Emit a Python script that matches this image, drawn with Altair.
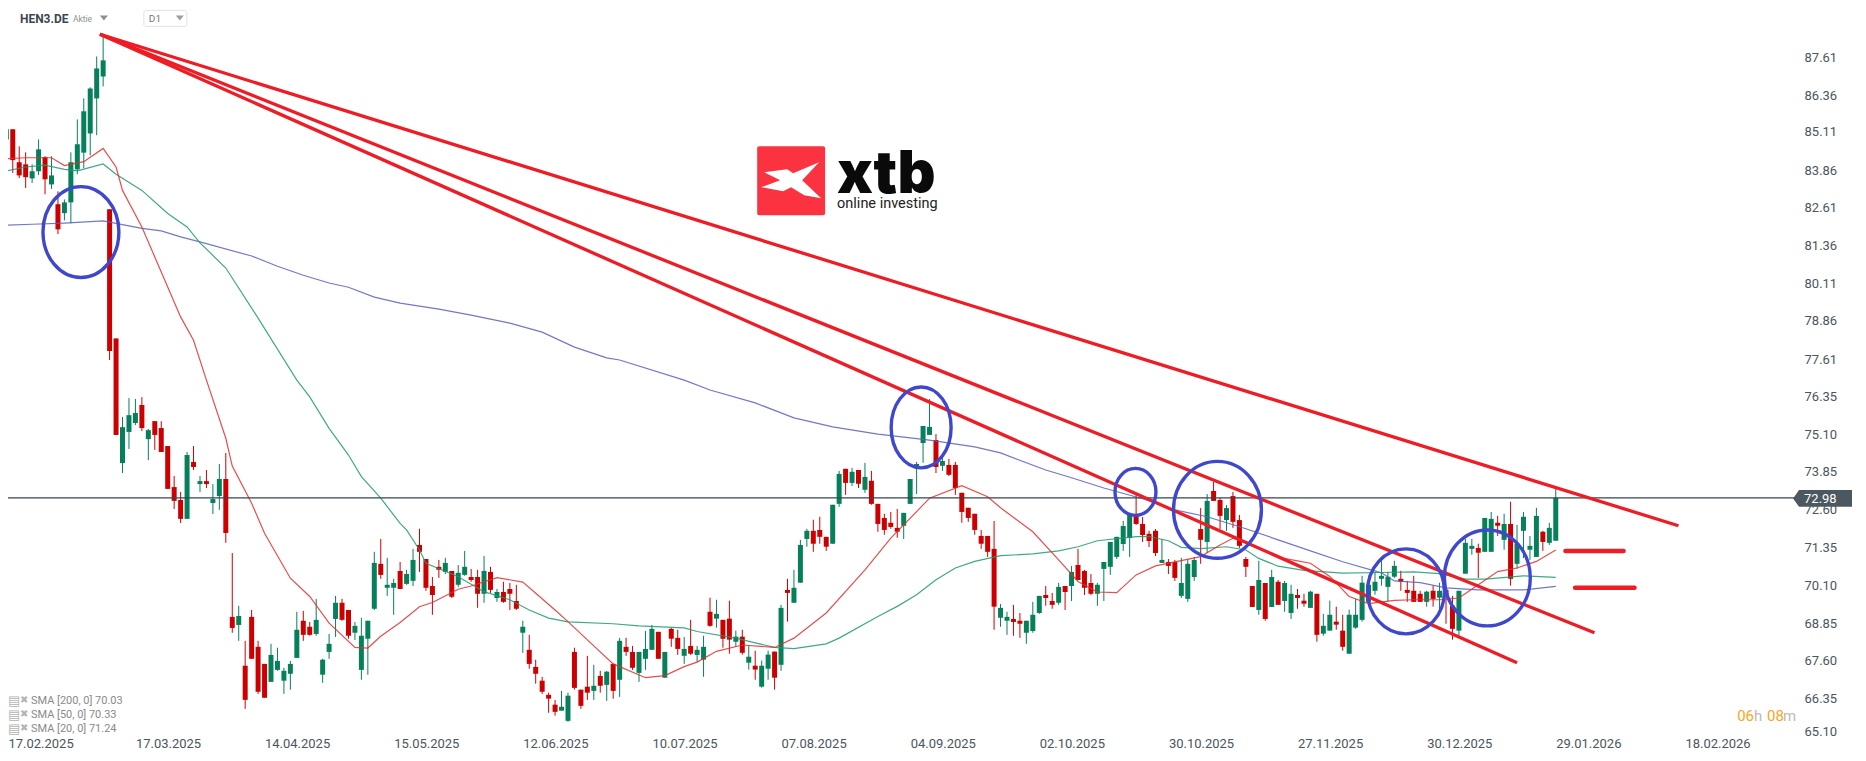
import altair as alt
import pandas as pd

opens = [
    84.94, 85.28, 84.18, 84.11, 83.64, 83.88, 84.35, 83.44, 82.78, 82.48,
    82.84, 83.94, 84.50, 85.14, 86.31, 87.04, 82.61, 78.30, 74.14, 75.18,
    75.48, 76.08, 74.94, 75.54, 75.31, 74.71, 73.34, 72.91, 72.28, 74.18,
    73.44, 73.54, 72.81, 73.04, 73.61, 69.01, 68.74, 67.38, 69.01, 68.01,
    67.44, 66.84, 67.24, 66.88, 67.11, 67.64, 68.88, 68.68, 68.44, 67.08,
    67.84, 68.94, 69.48, 69.24, 68.48, 67.24, 68.28, 69.28, 70.78, 69.98,
    69.98, 70.54, 70.11, 70.21, 71.41, 70.94, 70.04, 70.68, 70.51, 70.54,
    70.08, 70.41, 70.34, 70.34, 69.78, 70.51, 69.64, 69.84, 69.94, 69.54,
    68.48, 67.91, 67.34, 66.88, 66.41, 66.08, 65.88, 65.54, 67.84, 66.58,
    66.68, 66.54, 67.04, 66.74, 67.44, 66.91, 68.01, 67.84, 67.14, 67.61,
    67.91, 68.51, 66.98, 68.61, 68.31, 67.71, 68.04, 67.74, 67.58, 69.18,
    68.95, 68.91, 68.95, 68.18, 68.35, 67.48, 67.38, 66.68, 67.28, 67.85,
    67.41, 69.91, 69.48, 70.15, 71.61, 71.88, 71.91, 71.68, 71.45, 72.78,
    73.95, 73.48, 73.91, 73.25, 73.55, 72.78, 72.31, 72.15, 71.98, 72.05,
    72.78, 73.98, 74.81, 75.08, 74.91, 74.05, 74.08, 74.08, 73.15, 72.65,
    72.45, 71.71, 71.71, 71.28, 68.98, 68.88, 68.94, 68.88, 68.48, 68.54,
    69.14, 69.74, 69.54, 69.48, 70.04, 70.04, 70.74, 70.54, 70.14, 69.78,
    70.61, 70.68, 71.01, 71.44, 71.64, 72.41, 72.11, 71.78, 71.88, 70.81,
    70.84, 70.84, 69.71, 69.61, 70.34, 71.94, 71.51, 73.21, 72.91, 72.24,
    73.04, 72.24, 70.94, 70.04, 69.24, 70.14, 69.34, 70.18, 69.54, 69.14,
    69.74, 69.55, 69.31, 69.78, 68.45, 68.55, 68.85, 68.55, 67.78, 68.65,
    68.91, 69.51, 69.88, 70.28, 70.01, 70.35, 70.28, 69.91, 69.88, 69.78,
    69.51, 69.88, 69.65, 69.91, 69.38, 68.55, 70.45, 71.28, 71.31, 71.18,
    71.18, 72.15, 71.58, 72.11, 70.78, 71.88, 71.25, 71.01, 71.85, 71.48,
    71.55,
]
closes = [
    85.28, 84.25, 83.74, 83.68, 83.88, 84.61, 83.61, 83.74, 81.94, 82.84,
    84.18, 84.78, 85.88, 86.64, 87.31, 87.58, 77.88, 75.08, 75.34, 75.74,
    75.81, 75.31, 75.24, 75.08, 74.51, 73.28, 72.88, 72.28, 74.41, 74.01,
    73.54, 73.44, 72.94, 73.61, 71.81, 68.64, 69.04, 66.24, 67.61, 66.51,
    66.31, 67.74, 67.54, 67.21, 67.44, 68.58, 68.41, 68.41, 68.91, 67.58,
    68.11, 69.48, 68.91, 68.38, 68.71, 68.38, 68.88, 70.81, 70.41, 70.08,
    70.14, 69.94, 70.44, 70.91, 71.18, 69.98, 69.74, 70.58, 70.81, 69.68,
    70.48, 70.68, 70.24, 69.78, 70.54, 69.91, 69.84, 69.51, 69.78, 69.28,
    68.68, 67.44, 67.11, 66.51, 66.28, 65.84, 66.01, 66.38, 66.64, 66.04,
    66.48, 66.71, 66.71, 67.18, 66.54, 68.21, 67.84, 67.31, 67.84, 67.94,
    68.61, 67.61, 67.84, 68.28, 67.94, 67.94, 67.78, 67.91, 68.01, 68.71,
    69.11, 68.28, 68.25, 68.35, 67.81, 67.68, 67.25, 67.38, 67.75, 66.98,
    69.31, 69.81, 69.98, 71.41, 71.88, 71.45, 71.68, 71.35, 72.75, 73.78,
    73.48, 73.85, 73.45, 73.68, 72.78, 72.11, 71.91, 72.01, 71.85, 72.48,
    73.61, 74.11, 75.38, 75.35, 74.01, 74.21, 73.75, 73.31, 72.51, 72.31,
    71.91, 71.45, 71.18, 69.35, 69.31, 69.01, 68.84, 68.78, 68.88, 69.08,
    69.71, 69.64, 69.41, 70.01, 69.84, 70.51, 70.24, 69.98, 69.78, 70.08,
    70.84, 71.51, 71.68, 72.04, 72.41, 72.11, 71.74, 71.54, 71.14, 70.91,
    70.71, 70.31, 70.14, 70.78, 70.91, 71.58, 72.88, 72.88, 72.38, 72.64,
    72.18, 71.38, 70.68, 69.34, 70.24, 68.94, 70.34, 69.41, 70.14, 69.78,
    69.64, 69.45, 69.85, 68.41, 68.71, 69.08, 68.75, 68.01, 69.08, 69.08,
    70.15, 70.08, 70.18, 70.38, 70.35, 70.71, 70.18, 69.81, 69.51, 69.51,
    69.85, 69.61, 69.88, 69.71, 68.61, 69.88, 71.48, 71.38, 71.15, 72.31,
    72.28, 72.05, 72.11, 70.28, 71.45, 72.35, 71.38, 72.38, 71.51, 71.98,
    72.98,
]
highs = [
    85.71, 85.28, 84.71, 84.51, 84.11, 84.94, 84.38, 84.38, 83.21, 82.94,
    84.51, 85.61, 86.31, 86.68, 87.71, 88.47, 82.61, 78.30, 75.68, 76.31,
    76.28, 76.34, 75.28, 75.54, 75.54, 74.71, 73.71, 73.18, 74.51, 74.71,
    73.71, 73.91, 73.44, 74.11, 74.48, 71.14, 69.38, 68.21, 69.24, 68.21,
    67.44, 68.11, 67.98, 67.31, 67.54, 69.18, 69.21, 68.84, 69.61, 67.61,
    68.44, 69.71, 69.61, 69.24, 68.84, 68.98, 68.88, 71.18, 71.61, 70.98,
    70.28, 70.84, 70.58, 71.28, 71.95, 70.94, 70.34, 70.91, 70.98, 70.54,
    70.74, 71.21, 70.61, 70.58, 71.04, 70.68, 69.94, 70.18, 70.14, 70.08,
    68.88, 68.41, 67.58, 67.01, 66.48, 66.24, 66.54, 66.48, 67.98, 66.58,
    67.71, 67.41, 67.21, 67.21, 67.44, 68.31, 68.31, 68.04, 67.84, 68.54,
    68.74, 68.51, 67.84, 68.64, 68.58, 68.34, 68.91, 68.04, 68.38, 69.65,
    69.58, 68.91, 69.55, 68.55, 68.58, 68.05, 67.88, 67.55, 67.88, 67.85,
    69.41, 70.28, 70.58, 71.58, 71.95, 72.25, 72.35, 71.68, 72.75, 73.88,
    73.95, 73.98, 73.91, 74.15, 73.88, 72.78, 72.45, 72.51, 72.61, 72.48,
    73.61, 74.18, 75.38, 76.28, 75.11, 74.38, 74.28, 74.18, 73.15, 72.65,
    72.45, 71.91, 71.71, 72.21, 69.44, 69.18, 69.41, 69.14, 68.88, 69.51,
    69.71, 70.04, 69.81, 70.14, 70.04, 70.71, 71.28, 70.58, 70.44, 70.14,
    70.84, 71.51, 71.68, 72.21, 72.48, 73.08, 72.34, 71.88, 71.94, 71.61,
    70.94, 70.91, 70.98, 70.94, 71.01, 72.64, 73.11, 73.51, 72.98, 72.74,
    73.18, 72.41, 71.01, 70.04, 70.88, 70.14, 70.58, 70.24, 70.21, 70.08,
    69.94, 69.78, 69.88, 69.78, 69.11, 69.55, 69.35, 69.08, 69.25, 69.61,
    70.38, 70.38, 70.51, 71.01, 70.51, 70.88, 70.55, 70.21, 70.38, 69.88,
    69.88, 70.05, 70.15, 70.05, 69.71, 69.88, 71.61, 71.61, 71.45, 72.31,
    72.51, 72.38, 72.45, 72.85, 72.08, 72.51, 71.71, 72.65, 71.88, 72.15,
    73.31,
]
lows = [
    84.85, 83.82, 83.65, 83.32, 83.49, 83.75, 83.11, 83.29, 81.78, 82.24,
    82.14, 83.78, 83.98, 84.41, 85.08, 86.71, 77.58, 75.08, 73.81, 74.61,
    75.41, 75.21, 74.24, 74.58, 74.51, 73.28, 72.61, 72.14, 72.28, 73.91,
    73.18, 73.31, 72.44, 72.58, 71.48, 68.48, 68.21, 65.94, 67.61, 66.44,
    66.31, 66.84, 67.21, 66.44, 66.58, 67.64, 68.21, 68.38, 68.38, 66.81,
    67.61, 68.34, 68.88, 68.28, 68.24, 66.91, 67.08, 69.24, 70.28, 69.71,
    69.08, 69.94, 70.08, 70.04, 70.51, 69.88, 69.08, 70.31, 70.44, 69.64,
    70.01, 70.38, 70.18, 69.31, 69.48, 69.81, 69.51, 69.48, 69.24, 69.24,
    67.81, 67.28, 66.78, 66.44, 65.81, 65.71, 65.88, 65.51, 66.58, 65.94,
    66.24, 66.24, 66.48, 66.21, 66.28, 66.34, 67.71, 67.24, 66.84, 67.24,
    67.91, 67.61, 66.98, 68.01, 67.74, 67.44, 67.74, 67.51, 67.01, 68.68,
    68.65, 67.98, 67.78, 68.01, 67.75, 67.25, 66.91, 66.65, 66.91, 66.58,
    67.21, 68.85, 69.48, 70.15, 71.35, 71.18, 71.45, 71.21, 71.45, 72.68,
    73.08, 73.38, 73.31, 73.15, 72.75, 71.85, 71.75, 71.95, 71.65, 71.61,
    72.78, 73.11, 74.15, 75.08, 73.81, 73.88, 73.71, 73.08, 72.15, 72.18,
    71.75, 71.28, 71.01, 68.58, 68.68, 68.41, 68.38, 68.31, 68.11, 68.48,
    69.11, 69.38, 69.28, 69.41, 69.24, 69.54, 70.24, 69.74, 69.74, 69.38,
    69.54, 70.41, 70.94, 71.21, 71.01, 72.08, 71.51, 71.34, 71.04, 70.81,
    70.44, 70.21, 69.64, 69.51, 70.21, 70.78, 71.14, 72.88, 71.94, 71.88,
    71.98, 71.31, 70.34, 69.34, 69.08, 68.88, 69.34, 69.41, 69.18, 68.94,
    69.28, 69.35, 69.31, 68.18, 68.38, 68.55, 68.58, 67.88, 67.78, 68.61,
    68.85, 69.45, 69.75, 70.05, 69.51, 70.31, 69.88, 69.51, 69.51, 69.51,
    69.35, 69.35, 69.21, 68.78, 68.25, 68.38, 70.45, 71.08, 70.31, 71.18,
    71.18, 71.71, 71.25, 70.05, 70.61, 70.97, 70.91, 71.01, 71.21, 71.41,
    71.55,
]

sma200_bar = [0, 4, 9, 15, 21, 24, 27, 30, 38, 42, 46, 50, 53, 57, 61, 67, 72, 78, 83, 88, 93, 95, 105, 109,
              116, 122, 128, 135, 143, 150, 154, 161, 165, 170, 176, 181, 186, 192, 197, 202, 207, 213, 215,
              219, 223, 228, 235, 240]
sma200_val = [82.08, 82.11, 82.15, 82.22, 81.97, 81.89, 81.69, 81.52, 81.05, 80.71, 80.41, 80.15, 80.01, 79.68,
              79.48, 79.28, 79.08, 78.81, 78.51, 78.01, 77.65, 77.58, 76.91, 76.58, 76.15, 75.65, 75.35, 75.11,
              74.91, 74.68, 74.48, 73.91, 73.65, 73.31, 72.95, 72.58, 72.35, 71.95, 71.58, 71.21, 70.85, 70.48,
              70.21, 70.15, 69.98, 69.91, 69.91, 70.03]
sma50_bar = [0, 3, 6, 9, 11, 15, 17, 21, 25, 28, 30, 34, 39, 45, 47, 50, 53, 55, 58, 61, 62, 64, 65, 70, 74, 78,
             81, 84, 87, 94, 98, 105, 107, 113, 116, 119, 122, 127, 129, 135, 138, 141, 144, 147, 150, 154, 159,
             163, 166, 169, 175, 177, 180, 182, 185, 189, 192, 194, 197, 201, 207, 213, 218, 222, 226, 229, 235, 240]
sma50_val = [83.89, 84.02, 84.08, 83.94, 83.89, 84.12, 83.78, 83.24, 82.47, 82.02, 81.49, 80.65, 78.98, 76.91,
             76.35, 75.30, 74.41, 73.69, 72.97, 72.13, 71.91, 71.24, 70.80, 70.35, 69.85, 69.58, 69.24, 68.97,
             68.84, 68.78, 68.71, 68.64, 68.52, 68.30, 68.14, 67.99, 67.95, 68.11, 68.30, 69.02, 69.36, 69.75,
             70.25, 70.64, 70.86, 71.05, 71.11, 71.21, 71.35, 71.55, 71.69, 71.69, 71.55, 71.33, 71.29, 71.35,
             71.24, 70.96, 70.70, 70.56, 70.47, 70.49, 70.51, 70.45, 70.27, 70.27, 70.38, 70.33]
sma20_bar = [0, 3, 7, 9, 12, 15, 17, 18, 21, 23, 27, 29, 31, 34, 35, 38, 40, 44, 47, 50, 54, 56, 58, 61, 64, 66,
             70, 72, 76, 80, 82, 85, 87, 90, 94, 99, 102, 105, 107, 110, 114, 119, 122, 127, 133, 137, 141, 143,
             148, 152, 154, 159, 163, 166, 169, 172, 175, 178, 185, 188, 190, 192, 194, 197, 200, 202, 205, 208,
             211, 215, 218, 222, 225, 228, 231, 234, 237, 240]
sma20_val = [84.30, 84.33, 84.33, 84.07, 84.20, 84.64, 84.02, 83.24, 82.02, 81.02, 79.02, 78.24, 76.91, 74.97,
             74.04, 72.80, 71.80, 70.30, 69.69, 68.80, 67.99, 67.97, 68.36, 68.82, 69.35, 69.49, 69.93, 70.04,
             70.32, 70.17, 69.80, 69.24, 68.85, 68.24, 67.44, 66.98, 67.05, 67.35, 67.50, 67.86, 68.07, 67.99,
             68.30, 69.14, 70.58, 71.64, 72.52, 72.97, 73.39, 73.02, 72.65, 71.85, 70.91, 70.19, 69.84, 69.82,
             70.41, 70.71, 71.02, 71.41, 71.63, 71.52, 71.30, 71.00, 70.88, 70.80, 70.36, 69.69, 69.45, 69.56,
             69.58, 69.58, 69.64, 70.08, 70.52, 70.64, 70.86, 71.24]

# hand drawn trend lines and levels
trend_bar = [14.5, 14.5, 14.5]
trend_val = [88.45, 88.45, 88.45]
trend_bar2 = [259, 246, 234]
trend_val2 = [72.05, 68.48, 67.48]
level_bar = [241.5, 243]
level_bar2 = [250.5, 252.2]
level_val = [71.21, 69.98]

# hand drawn ellipses: centre and half axes
ring_bar = [11.56, 141.7, 174.9, 187.6, 216.8, 229.4]
ring_val = [81.85, 75.33, 73.18, 72.58, 69.86, 70.31]
ring_rx = [38, 30, 20.5, 44, 38.5, 43]
ring_ry = [45.5, 40.5, 23.5, 48.5, 42.5, 48]

last_price = 72.98
# first tick sits just inside the scale, an axis drops values outside its domain
tick_bars = [0.27, 20, 40, 60, 80, 100, 120, 140, 160, 180, 200, 220, 240, 260]
tick_dates = ['17.02.2025', '17.03.2025', '14.04.2025', '15.05.2025', '12.06.2025', '10.07.2025', '07.08.2025',
              '04.09.2025', '02.10.2025', '30.10.2025', '27.11.2025', '30.12.2025', '29.01.2026', '18.02.2026']
# printed price labels, and where each one sits on the candles' price scale
price_labels = ['87.61', '86.36', '85.11', '83.86', '82.61', '81.36', '80.11', '78.86', '77.61', '76.35', '75.10',
                '73.85', '72.60', '71.35', '70.10', '68.85', '67.60', '66.35', '65.10']
price_ticks = [87.68, 86.41, 85.19, 83.91, 82.66, 81.39, 80.12, 78.89, 77.61, 76.36, 75.11, 73.86, 72.60, 71.32,
               70.07, 68.79, 67.57, 66.30, 65.19]
sma_labels = ['SMA [200,  0] 70.03', 'SMA [50,  0] 70.33', 'SMA [20,  0] 71.24']

GREEN = '#06805a'
RED = '#cc0000'
FONT = 'Roboto'

# padding=0: bars would otherwise inset the x scale by their own width
x_scale = alt.Scale(domain=[0.263, 277.53], nice=False, zero=False, padding=0)
y_scale = alt.Scale(domain=[65.047, 89.313], nice=False, zero=False)

candles = pd.DataFrame({'bar': range(len(opens)), 'open': opens, 'high': highs, 'low': lows, 'close': closes})
candles['dir'] = ['up' if c >= o else 'down' for o, c in zip(opens, closes)]
candle_color = alt.Color('dir:N', scale=alt.Scale(domain=['up', 'down'], range=[GREEN, RED]), legend=None)

date_expr = "{" + ",".join(f"'{b}':'{d}'" for b, d in zip(tick_bars, tick_dates)) + "}[datum.value]"
price_expr = "{" + ",".join(f"'{t:.2f}':'{p}'" for t, p in zip(price_ticks, price_labels)) + "}[format(datum.value,'.2f')]"
x_axis = alt.Axis(values=tick_bars, labelExpr=date_expr, labelAlign='left', labelBaseline='middle', labelPadding=8,
                  labelFlush=False, labelOverlap=False, domain=False, ticks=False, grid=False,
                  title=None, labelFont=FONT, labelFontSize=13, labelColor='#4a5560')
y_axis = alt.Axis(orient='right', values=price_ticks, labelExpr=price_expr, labelPadding=6,
                  labelOverlap=False, labelFlush=False, domain=False, ticks=False, grid=False, title=None,
                  labelFont=FONT, labelFontSize=13, labelColor='#4a5560')

wicks = alt.Chart(candles).mark_rule(strokeWidth=1).encode(
    x=alt.X('bar:Q', scale=x_scale, axis=x_axis),
    y=alt.Y('low:Q', scale=y_scale, axis=y_axis),
    y2='high:Q',
    color=candle_color,
)
bodies = alt.Chart(candles).mark_bar(size=5).encode(
    x=alt.X('bar:Q', scale=x_scale),
    y=alt.Y('open:Q', scale=y_scale),
    y2='close:Q',
    color=candle_color,
)


def sma_line(bars, vals, color):
    frame = pd.DataFrame({'bar': bars, 'val': vals})
    return alt.Chart(frame).mark_line(strokeWidth=1.2, color=color, opacity=0.85).encode(
        x=alt.X('bar:Q', scale=x_scale),
        y=alt.Y('val:Q', scale=y_scale),
    )


now_line = alt.Chart(pd.DataFrame({'p': [last_price]})).mark_rule(strokeWidth=1.4, color='#37444f').encode(
    y=alt.Y('p:Q', scale=y_scale),
)

trends = alt.Chart(pd.DataFrame({'a': trend_bar, 'b': trend_bar2, 'v': trend_val, 'w': trend_val2})).mark_rule(
    strokeWidth=3.3, color='#ee1c25'
).encode(
    x=alt.X('a:Q', scale=x_scale),
    x2='b:Q',
    y=alt.Y('v:Q', scale=y_scale),
    y2='w:Q',
)
levels = alt.Chart(pd.DataFrame({'a': level_bar, 'b': level_bar2, 'v': level_val})).mark_rule(
    strokeWidth=4.5, color='#ee1c25', strokeCap='round'
).encode(
    x=alt.X('a:Q', scale=x_scale),
    x2='b:Q',
    y=alt.Y('v:Q', scale=y_scale),
)

rings = []
for bar, val, rx, ry in zip(ring_bar, ring_val, ring_rx, ring_ry):
    path = f'M{-rx},0 A{rx},{ry} 0 1 1 {rx},0 A{rx},{ry} 0 1 1 {-rx},0 Z'
    rings.append(
        alt.Chart(pd.DataFrame({'bar': [bar], 'val': [val]})).mark_point(
            shape=path, size=4, filled=False, stroke='#3f48cc', strokeWidth=3.4, opacity=1
        ).encode(
            x=alt.X('bar:Q', scale=x_scale),
            y=alt.Y('val:Q', scale=y_scale),
        )
    )

dummy = pd.DataFrame({'a': [0]})


def label(text, x, y, size=12, color='#4a5560', align='left', weight='normal', font=FONT):
    return alt.Chart(dummy).mark_text(
        align=align, baseline='middle', fontSize=size, color=color, fontWeight=weight, font=font
    ).encode(x=alt.value(x - 8), y=alt.value(y - 8), text=alt.value(text))


def glyph(path, x, y, color):
    return alt.Chart(dummy).mark_point(
        shape=path, size=4, filled=True, fill=color, opacity=1, strokeWidth=0
    ).encode(x=alt.value(x - 8), y=alt.value(y - 8))


def box(x, x2, y, y2, **kw):
    return alt.Chart(dummy).mark_rect(**kw).encode(
        x=alt.value(x - 8), x2=alt.value(x2 - 8), y=alt.value(y - 8), y2=alt.value(y2 - 8)
    )


triangle = 'M-4,-2 L4,-2 L0,3 Z'
header = [
    label('HEN3.DE', 20, 19, size=12, color='#3c4650', weight='bold'),
    label('Aktie', 73, 19, size=8.5, color='#8a8f94'),
    glyph(triangle, 104, 17, '#8a8f94'),
    box(144, 187, 10, 26, fill='white', stroke='#e2e2e2', cornerRadius=2),
    label('D1', 149, 19, size=10, color='#6f7780'),
    glyph(triangle, 180, 17, '#9a9fa4'),
]

logo = [
    box(758, 826, 146, 215, fill='#fb3341', cornerRadius=2),
    glyph('M-27,-7 L-4,-10 L2,-6 L28,-17 L11,1 L30,19 L13,16 L0,8 L-8,12 L-30,8 L-11,1 Z', 792, 179, 'white'),
    label('xtb', 838, 175, size=59, color='#0a0a0a', weight=900, font='Inter'),
    label('online investing', 838, 204, size=14.5, color='#222222', font='Roboto'),
]

legend = []
for text, y in zip(sma_labels, [701, 715, 729]):
    legend.append(label('▤', 8, y, size=13, color='#b4b4b4', font='DejaVu Sans'))
    legend.append(label('✖', 20, y - 1, size=10, color='#b4b4b4', font='DejaVu Sans'))
    legend.append(label(text, 31, y, size=11, color='#8a8a8a'))

price_tag = [
    glyph('M-30,0 L-24,-8.5 L29,-8.5 L29,8.5 L-24,8.5 Z', 1825, 498.5, '#4b5860'),
    label('72.98', 1806, 499, size=13, color='white'),
]

countdown = [
    label('06', 1739, 716, size=15, color='#f5a623'),
    label('h', 1756, 716, size=15, color='#b9b9b9'),
    label('08', 1769, 716, size=15, color='#f5a623'),
    label('m', 1785, 716, size=15, color='#b9b9b9'),
]

chart = alt.layer(
    wicks, bodies,
    sma_line(sma200_bar, sma200_val, '#5a60b8'),
    sma_line(sma50_bar, sma50_val, '#1f9a6e'),
    sma_line(sma20_bar, sma20_val, '#e02f2f'),
    now_line,
    trends, levels,
    *rings, *header, *logo, *legend, *price_tag, *countdown,
).properties(
    width=1792, height=728,
    autosize=alt.AutoSizeParams(type='none'),
    padding={'left': 0, 'top': 0, 'right': 60, 'bottom': 22},
).configure_view(
    stroke=None
)

chart.save("out.html", embed_options={"renderer": "svg", "actions": False})
